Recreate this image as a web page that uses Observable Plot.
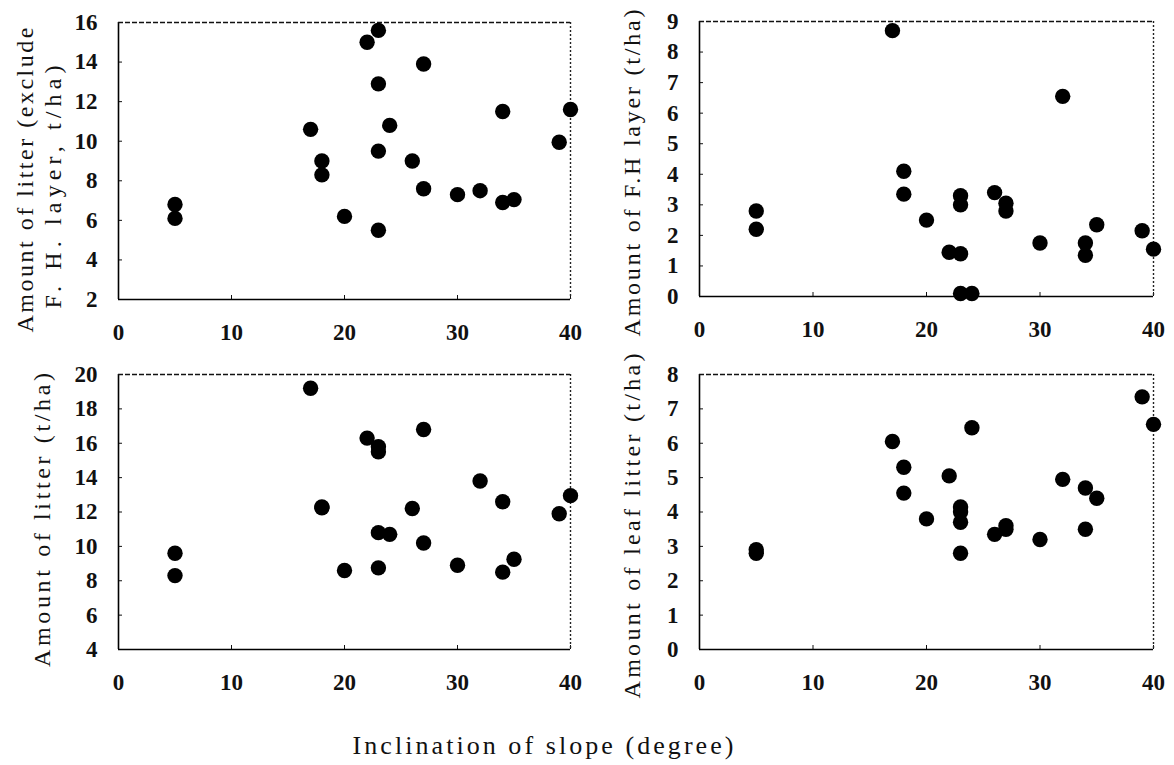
<!DOCTYPE html>
<html><head><meta charset="utf-8">
<script src="https://cdn.jsdelivr.net/npm/d3@7"></script>
<script src="https://cdn.jsdelivr.net/npm/@observablehq/plot@0.6"></script>
<style>
html,body{margin:0;padding:0;background:#fff;}
#chart{position:relative;width:1174px;height:765px;overflow:hidden;background:#fff;font-family:"Liberation Serif","Times New Roman",serif;}
.panel{position:absolute;}
.panel text{font-family:"Liberation Serif","Times New Roman",serif;}
#labels{position:absolute;left:0;top:0;pointer-events:none;}
#labels text{font-family:"Liberation Serif","Times New Roman",serif;}
</style></head><body><div id="chart"></div>
<script>
// Inclination of slope (degree) for each site
const slope = [5,5,17,18,18,20,22,23,23,23,23,24,26,27,27,30,32,34,34,35,39,40];
// Amount of litter excluding F.H. layer (t/ha)
const litterExFH = [6.8,6.1,10.6,9.0,8.3,6.2,15.0,15.6,12.9,9.5,5.5,10.8,9.0,13.9,7.6,7.3,7.5,11.5,6.9,7.05,9.95,11.6];
// Amount of F.H layer (t/ha)
const fhLayer = [2.8,2.2,8.7,4.1,3.35,2.5,1.45,1.4,3.3,3.0,0.1,0.1,3.4,3.05,2.8,1.75,6.55,1.75,1.35,2.35,2.15,1.55];
// Amount of litter (t/ha)
const litterTotal = [9.6,8.3,19.2,12.3,12.25,8.6,16.3,15.8,15.5,10.8,8.75,10.7,12.2,16.8,10.2,8.9,13.8,12.6,8.5,9.25,11.9,12.95];
// Amount of leaf litter (t/ha)
const leafLitter = [2.9,2.8,6.05,5.3,4.55,3.8,5.05,4.15,4.0,3.7,2.8,6.45,3.35,3.6,3.5,3.2,4.95,4.7,3.5,4.4,7.35,6.55];

const xTicks = [0,10,20,30,40];
const yTicks1 = [2,4,6,8,10,12,14,16];
const yTicks2 = [0,1,2,3,4,5,6,7,8,9];
const yTicks3 = [4,6,8,10,12,14,16,18,20];
const yTicks4 = [0,1,2,3,4,5,6,7,8];

const yTitles = [
  ["Amount of litter (exclude", "F. H. layer, t/ha)"],
  ["Amount of F.H layer (t/ha)"],
  ["Amount of litter (t/ha)"],
  ["Amount of leaf litter (t/ha)"]
];
const xTitle = "Inclination of slope (degree)";

const chart = document.getElementById("chart");
const FONT = "Liberation Serif, Times New Roman, serif";

function panel(values, yTicks, box) {
  const xDom = [xTicks[0], xTicks[xTicks.length-1]];
  const yDom = [yTicks[0], yTicks[yTicks.length-1]];
  const data = slope.map((s,i) => ({s, v: values[i]}));
  const p = Plot.plot({
    width: box.w, height: box.h,
    marginLeft: box.ml, marginRight: box.mr, marginTop: box.mt, marginBottom: box.mb,
    style: {fontFamily: FONT, fontSize: "23px", background: "transparent", overflow: "visible", color: "#111"},
    x: {domain: xDom, ticks: xTicks, label: null},
    y: {domain: yDom, ticks: yTicks, label: null},
    marks: [
      Plot.axisX({ticks: xTicks, tickSize: -4, tickPadding: 28, tickFormat: d => String(d), label: null, stroke: "#111", fontWeight: "bold"}),
      Plot.axisY({ticks: yTicks, tickSize: -4, tickPadding: 25, tickFormat: d => String(d), label: null, stroke: "#111", fontWeight: "bold"}),
      Plot.ruleX([xDom[0]], {stroke: "#000", strokeWidth: 1.6}),
      Plot.ruleY([yDom[0]], {stroke: "#000", strokeWidth: 1.6}),
      Plot.ruleY([yDom[1]], {stroke: "#111", strokeWidth: 1.5, strokeDasharray: "5,2"}),
      Plot.ruleX([xDom[1]], {stroke: "#222", strokeWidth: 1.4, strokeDasharray: "2,2"}),
      Plot.dot(data, {x: "s", y: "v", r: 7.7, fill: "#000", stroke: "none"})
    ]
  });
  p.classList.add("panel");
  p.style.left = box.left + "px";
  p.style.top = box.top + "px";
  chart.appendChild(p);
}

panel(litterExFH, yTicks1, {left: 0, top: 0, w: 587, h: 345, ml: 118, mr: 17, mt: 22, mb: 46});
panel(fhLayer, yTicks2, {left: 587, top: 0, w: 587, h: 345, ml: 112, mr: 21, mt: 21, mb: 49});
panel(litterTotal, yTicks3, {left: 0, top: 345, w: 587, h: 345, ml: 118, mr: 17, mt: 29, mb: 41});
panel(leafLitter, yTicks4, {left: 587, top: 345, w: 587, h: 345, ml: 112, mr: 21, mt: 29, mb: 41});

// Axis titles
const svg = d3.select(chart).append("svg").attr("id", "labels")
  .attr("width", 1174).attr("height", 765)
  .attr("font-family", FONT).style("fill", "#111");

const titleSpecs = [
  {text: yTitles[0][0], cx: 25, cy: 180, len: 305, fs: 24},
  {text: yTitles[0][1], cx: 53, cy: 187, len: 243, fs: 24},
  {text: yTitles[1][0], cx: 632, cy: 173, len: 327, fs: 24},
  {text: yTitles[2][0], cx: 42, cy: 520, len: 294, fs: 24},
  {text: yTitles[3][0], cx: 632, cy: 526, len: 345, fs: 24}
];
titleSpecs.forEach(t => {
  svg.append("text")
    .attr("transform", `translate(${t.cx},${t.cy}) rotate(-90)`)
    .attr("text-anchor", "middle").attr("dy", "0.35em")
    .attr("font-size", t.fs)
    .attr("textLength", t.len).attr("lengthAdjust", "spacing")
    .text(t.text);
});
svg.append("text")
  .attr("x", 543).attr("y", 745).attr("text-anchor", "middle").attr("dy", "0.35em")
  .attr("font-size", 26).attr("textLength", 381).attr("lengthAdjust", "spacing")
  .text(xTitle);
</script></body></html>
